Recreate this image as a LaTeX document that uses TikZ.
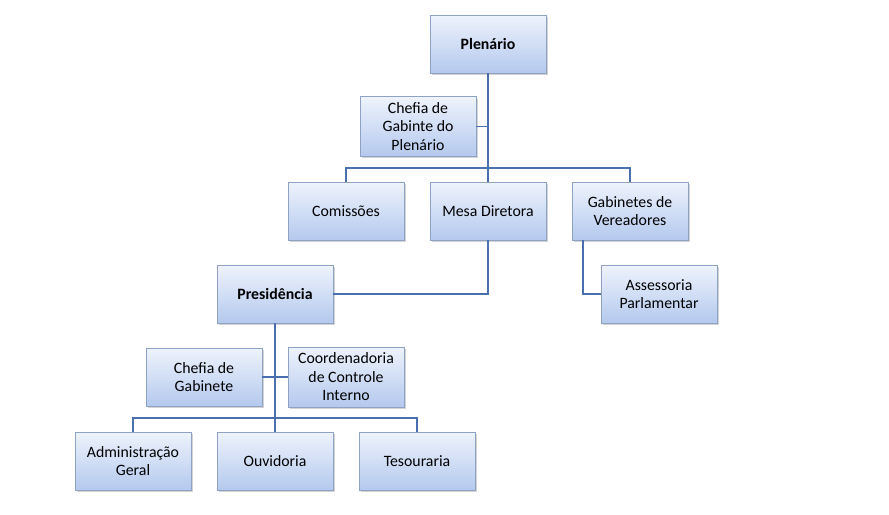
\documentclass[tikz,border=0pt]{standalone}
\usepackage{fontspec}
\setmainfont{Carlito}
\usetikzlibrary{positioning,shadows}
\definecolor{boxtop}{HTML}{EEF3FC}
\definecolor{boxbot}{HTML}{B4C9EE}
\definecolor{boxline}{HTML}{8EA3C4}
\definecolor{linkblue}{HTML}{4A6FAE}
\tikzset{
  unit/.style={draw=boxline,top color=boxtop,bottom color=boxbot,
    minimum width=2.32cm,minimum height=1.16cm,align=center,
    font=\fontsize{9}{10.5}\selectfont,
    drop shadow={shadow xshift=.04cm,shadow yshift=-.04cm,opacity=.35}},
  head/.style={unit,font=\fontsize{9}{10.5}\selectfont\bfseries},
  link/.style={draw=linkblue,line width=1.1pt}
}
\begin{document}
\begin{tikzpicture}[x=0.02cm,y=-0.02cm]
    \useasboundingbox (0,0) rectangle (889,514);
    \node[head] (plen) at (488,44) {Plenário};
    \node[unit] (chefp) at (418,126.5) {Chefia de\\Gabinte do\\Plenário};
    \node[unit] (comis) at (346,211) {Comissões};
    \node[unit] (mesa) at (488,211) {Mesa Diretora};
    \node[unit] (gabv) at (630,211) {Gabinetes de\\Vereadores};
    \node[head] (pres) at (275,294) {Presidência};
    \node[unit] (asse) at (659,294) {Assessoria\\Parlamentar};
    \node[unit] (chefg) at (204,377) {Chefia de\\Gabinete};
    \node[unit] (coord) at (346,377) {Coordenadoria\\de Controle\\Interno};
    \node[unit] (adm) at (133,461) {Administração\\Geral};
    \node[unit] (ouvi) at (275,461) {Ouvidoria};
    \node[unit] (teso) at (417,461) {Tesouraria};
    \coordinate (bar1) at (488,168);
    \coordinate (bar2) at (275,418);
    % upper level
    \draw[link] (plen) -- (bar1);
    \draw[link] (chefp) -- (chefp -| bar1);
    \draw[link] (comis) |- (bar1) -| (gabv);
    \draw[link] (bar1) -- (mesa);
    \draw[link] (mesa) |- (pres);
    \draw[link] ([xshift=-0.94cm]gabv.south) |- (asse);
    % lower level
    \draw[link] (pres) -- (bar2);
    \draw[link] (chefg) -- (chefg -| bar2) -- (coord);
    \draw[link] (adm) |- (bar2) -| (teso);
    \draw[link] (bar2) -- (ouvi);
\end{tikzpicture}
\end{document}
